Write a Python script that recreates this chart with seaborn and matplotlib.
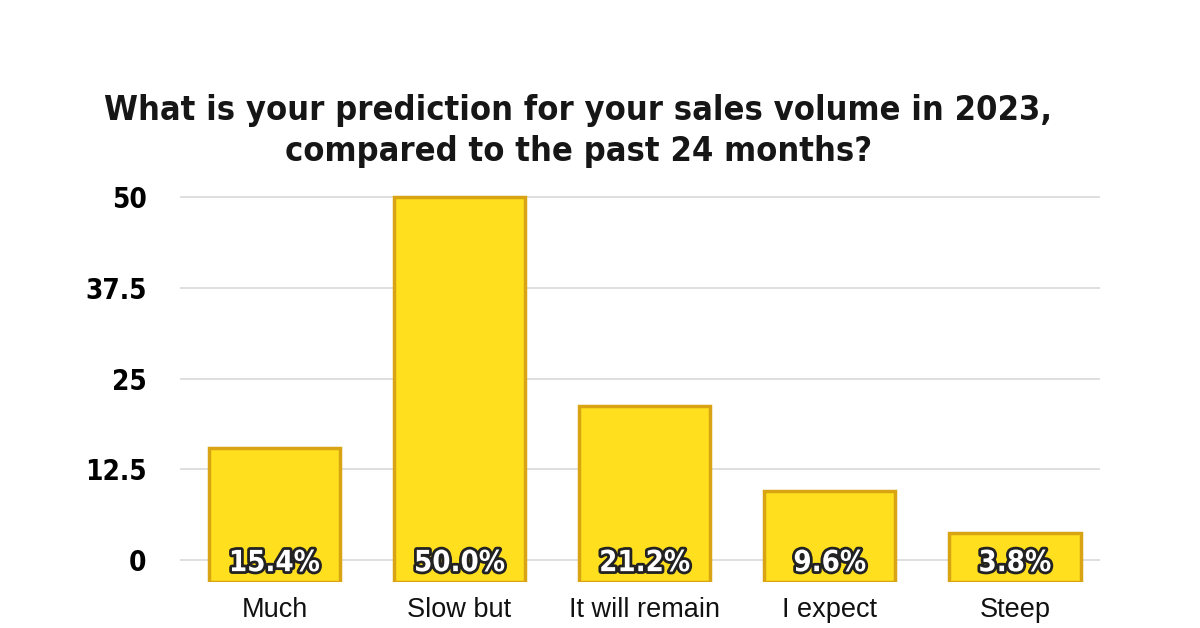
import pandas as pd
import matplotlib.pyplot as plt
import matplotlib.patheffects as pe
import seaborn as sns

# Daten aus der Grafik
categories = ["Much", "Slow but", "It will remain", "I expect", "Steep"]
shares = [15.4, 50.0, 21.2, 9.6, 3.8]
y_ticks = [0, 12.5, 25, 37.5, 50]
y_tick_labels = ["0", "12.5", "25", "37.5", "50"]

df = pd.DataFrame({"answer": categories, "share": shares})

sns.set_style("white")
plt.rcParams["font.family"] = ["Liberation Sans", "DejaVu Sans"]
plt.rcParams["text.color"] = "black"
plt.rcParams["xtick.color"] = "black"
plt.rcParams["ytick.color"] = "black"
heavy = ["DejaVu Sans"]

fig = plt.figure(figsize=(12, 6.28), dpi=100)
ax = fig.add_axes([0.15, 0.0732, 0.7667, 0.624])

sns.barplot(data=df, x="answer", y="share", color="#FFDF1E", saturation=1,
            width=0.71, edgecolor="#D9A413", linewidth=2.5, ax=ax, zorder=3)

# 3D-artiger Sockel: Balken etwas unter die Nulllinie ziehen
depth = 3.0
for p in ax.patches:
    p.set_y(-depth)
    p.set_height(p.get_height() + depth)

for i, v in enumerate(shares):
    ax.text(i, -0.4, f"{v:.1f}%", ha="center", va="center", fontsize=21,
            fontweight="bold", family=heavy, stretch="condensed", color="white", zorder=5,
            path_effects=[pe.withStroke(linewidth=4, foreground="#222222")])

ax.set_xlim(-0.51, 4.46)
ax.set_ylim(-depth, 50.96)
ax.set_yticks(y_ticks)
ax.set_yticklabels(y_tick_labels, fontsize=20, fontweight="bold", family=heavy,
                   stretch="condensed")
ax.yaxis.grid(True, color="#dcdcdc", linewidth=1.3, zorder=0)
ax.tick_params(axis="y", length=0, pad=24)
ax.tick_params(axis="x", length=0, pad=11, labelsize=19.5, labelcolor="#111111")
ax.set_xlabel("")
ax.set_ylabel("")
sns.despine(ax=ax, left=True, bottom=True)

fig.text(0.482, 0.791, "What is your prediction for your sales volume in 2023,\ncompared to the past 24 months?",
         ha="center", va="center", fontsize=24.7, fontweight="bold", family=heavy,
         stretch="condensed", color="#161616", linespacing=1.3)

fig.savefig("out.png", dpi=100)
